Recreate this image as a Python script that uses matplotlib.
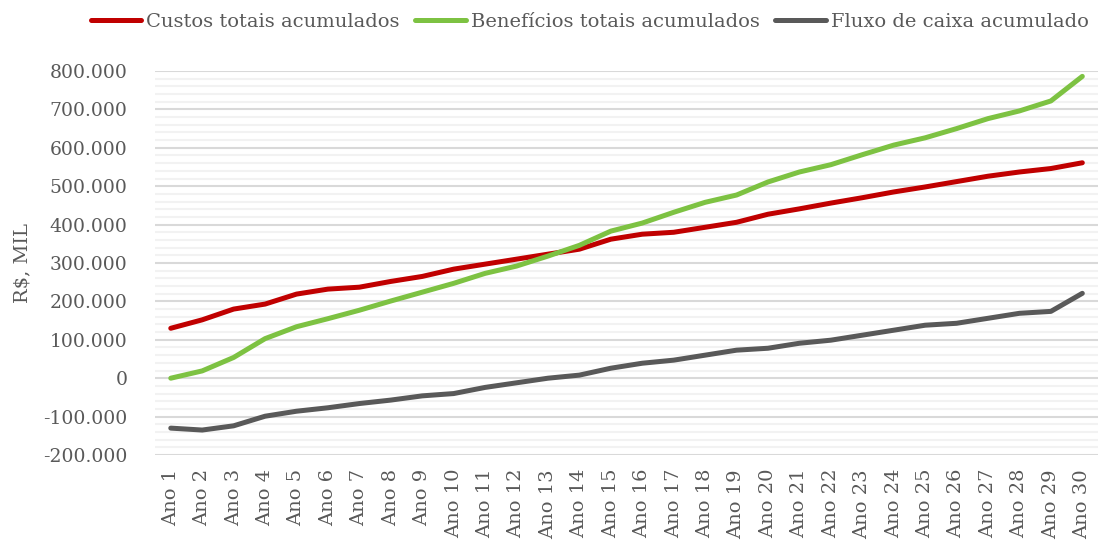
import matplotlib
matplotlib.use("Agg")
import matplotlib.pyplot as plt
from matplotlib.ticker import FuncFormatter, MultipleLocator

anos = [f"Ano {i}" for i in range(1, 31)]

custos = [130, 152, 180, 193, 219, 232, 237, 252, 265, 284,
          297, 310, 323, 336, 362, 375, 380, 393, 406, 427,
          441, 456, 470, 485, 498, 512, 526, 537, 546, 561]
beneficios = [0, 19, 54, 103, 134, 155, 177, 201, 224, 247,
              273, 292, 318, 346, 383, 404, 432, 458, 477, 511,
              537, 556, 582, 607, 626, 650, 676, 696, 722, 786]
fluxo = [-130, -135, -124, -99, -86, -77, -66, -57, -46, -40,
         -24, -12, 0, 8, 26, 39, 47, 60, 73, 78,
         91, 99, 112, 125, 138, 143, 156, 169, 174, 221]

series = [
    ("Custos totais acumulados", custos, "#c00000"),
    ("Benefícios totais acumulados", beneficios, "#7dc242"),
    ("Fluxo de caixa acumulado", fluxo, "#595959"),
]

plt.rcParams["font.family"] = ["DejaVu Serif"]
text_color = "#595959"

fig = plt.figure(figsize=(11.02, 5.44), dpi=100)
ax = fig.add_axes([0.1407, 0.1636, 0.8557, 0.7059])

x = list(range(len(anos)))
for name, vals, color in series:
    ax.plot(x, [v * 1000 for v in vals], color=color, lw=3.6,
            solid_capstyle="round", solid_joinstyle="round", label=name)

ax.set_xlim(-0.5, len(anos) - 0.5)
ax.set_ylim(-200000, 800000)
ax.yaxis.set_major_locator(MultipleLocator(100000))
ax.yaxis.set_minor_locator(MultipleLocator(20000))
ax.yaxis.set_major_formatter(FuncFormatter(lambda v, p: f"{int(round(v)):,}".replace(",", ".")))
ax.grid(axis="y", which="major", color="#d9d9d9", lw=1.5)
ax.grid(axis="y", which="minor", color="#f2f2f2", lw=1.5)
ax.set_axisbelow(True)

ax.set_xticks(x)
ax.set_xticklabels(anos, rotation=90)
for s in ax.spines.values():
    s.set_visible(False)
ax.tick_params(axis="both", which="both", length=0, labelsize=14, colors=text_color)
ax.tick_params(axis="y", labelsize=13.5, pad=20)
ax.tick_params(axis="x", pad=10)
ax.set_ylabel("R$, MIL", fontsize=14, color=text_color, labelpad=8)

fig.legend(loc="upper center", bbox_to_anchor=(0.535, 1.008), ncol=3, frameon=False,
           fontsize=14, labelcolor=text_color, handlelength=2.6, handletextpad=0.25,
           columnspacing=0.8)

fig.savefig("out.png", dpi=100)
